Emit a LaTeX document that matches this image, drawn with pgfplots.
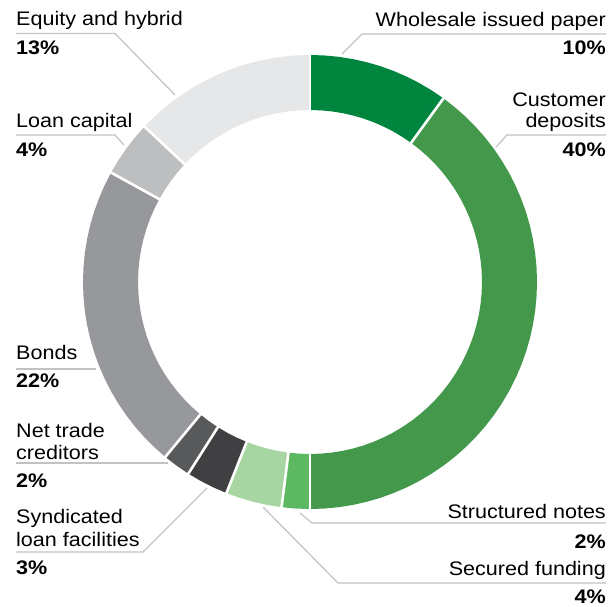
\documentclass[border=0pt]{standalone}
\usepackage{pgfplots}
\pgfplotsset{compat=1.18}
\usepackage{fontspec}
\setmainfont{Liberation Sans}[FakeStretch=1.1]
\definecolor{cWh}{HTML}{00853F}
\definecolor{cCu}{HTML}{43984B}
\definecolor{cSt}{HTML}{5DB961}
\definecolor{cSe}{HTML}{A8D6A2}
\definecolor{cSy}{HTML}{404042}
\definecolor{cNt}{HTML}{58595B}
\definecolor{cBo}{HTML}{97989B}
\definecolor{cLo}{HTML}{BDBEC0}
\definecolor{cEq}{HTML}{E6E7E8}
\definecolor{cLine}{HTML}{C2C2C2}
\newcommand\lab{\fontsize{19.6}{22}\selectfont}
\begin{document}
\begin{tikzpicture}
\begin{axis}[scale only axis, width=616pt, height=607pt,
  xmin=-310, xmax=306, ymin=-282, ymax=325, y dir=reverse,
  hide axis, clip=false]
\path (axis cs:-310,-282) rectangle (axis cs:306,325);
% Ring slices: angle = 3.6*(cumulative percent) - 90, radius = mid of ring
% Wholesale issued paper 10%
\addplot[draw=cWh, line width=55pt, data cs=polar] coordinates {(-90,199.5) (-86.4,199.5) (-82.8,199.5) (-79.2,199.5) (-75.6,199.5) (-72,199.5) (-68.4,199.5) (-64.8,199.5) (-61.2,199.5) (-57.6,199.5) (-54,199.5)};
% Customer deposits 40%
\addplot[draw=cCu, line width=55pt, data cs=polar] coordinates {(-54,199.5) (-50.4,199.5) (-46.8,199.5) (-43.2,199.5) (-39.6,199.5) (-36,199.5) (-32.4,199.5) (-28.8,199.5) (-25.2,199.5) (-21.6,199.5) (-18,199.5) (-14.4,199.5) (-10.8,199.5) (-7.2,199.5) (-3.6,199.5) (0,199.5) (3.6,199.5) (7.2,199.5) (10.8,199.5) (14.4,199.5) (18,199.5) (21.6,199.5) (25.2,199.5) (28.8,199.5) (32.4,199.5) (36,199.5) (39.6,199.5) (43.2,199.5) (46.8,199.5) (50.4,199.5) (54,199.5) (57.6,199.5) (61.2,199.5) (64.8,199.5) (68.4,199.5) (72,199.5) (75.6,199.5) (79.2,199.5) (82.8,199.5) (86.4,199.5) (90,199.5)};
% Structured notes 2%
\addplot[draw=cSt, line width=55pt, data cs=polar] coordinates {(90,199.5) (93.6,199.5) (97.2,199.5)};
% Secured funding 4%
\addplot[draw=cSe, line width=55pt, data cs=polar] coordinates {(97.2,199.5) (100.8,199.5) (104.4,199.5) (108,199.5) (111.6,199.5)};
% Syndicated loan facilities 3%
\addplot[draw=cSy, line width=55pt, data cs=polar] coordinates {(111.6,199.5) (115.2,199.5) (118.8,199.5) (122.4,199.5)};
% Net trade creditors 2%
\addplot[draw=cNt, line width=55pt, data cs=polar] coordinates {(122.4,199.5) (126,199.5) (129.6,199.5)};
% Bonds 22%
\addplot[draw=cBo, line width=55pt, data cs=polar] coordinates {(129.6,199.5) (133.2,199.5) (136.8,199.5) (140.4,199.5) (144,199.5) (147.6,199.5) (151.2,199.5) (154.8,199.5) (158.4,199.5) (162,199.5) (165.6,199.5) (169.2,199.5) (172.8,199.5) (176.4,199.5) (180,199.5) (183.6,199.5) (187.2,199.5) (190.8,199.5) (194.4,199.5) (198,199.5) (201.6,199.5) (205.2,199.5) (208.8,199.5)};
% Loan capital 4%
\addplot[draw=cLo, line width=55pt, data cs=polar] coordinates {(208.8,199.5) (212.4,199.5) (216,199.5) (219.6,199.5) (223.2,199.5)};
% Equity and hybrid 13%
\addplot[draw=cEq, line width=55pt, data cs=polar] coordinates {(223.2,199.5) (226.8,199.5) (230.4,199.5) (234,199.5) (237.6,199.5) (241.2,199.5) (244.8,199.5) (248.4,199.5) (252,199.5) (255.6,199.5) (259.2,199.5) (262.8,199.5) (266.4,199.5) (270,199.5)};
% white separators
\addplot[draw=white, line width=2.6pt, data cs=polar] coordinates {(-90,168) (-90,231)};
\addplot[draw=white, line width=2.6pt, data cs=polar] coordinates {(-54,168) (-54,231)};
\addplot[draw=white, line width=2.6pt, data cs=polar] coordinates {(90,168) (90,231)};
\addplot[draw=white, line width=2.6pt, data cs=polar] coordinates {(97.2,168) (97.2,231)};
\addplot[draw=white, line width=2.6pt, data cs=polar] coordinates {(111.6,168) (111.6,231)};
\addplot[draw=white, line width=2.6pt, data cs=polar] coordinates {(122.4,168) (122.4,231)};
\addplot[draw=white, line width=2.6pt, data cs=polar] coordinates {(129.6,168) (129.6,231)};
\addplot[draw=white, line width=2.6pt, data cs=polar] coordinates {(208.8,168) (208.8,231)};
\addplot[draw=white, line width=2.6pt, data cs=polar] coordinates {(223.2,168) (223.2,231)};
% leader lines
\addplot[draw=cLine, line width=1.2pt] coordinates {(-294,-248.5) (-195,-248.5) (-135,-187)};
\addplot[draw=cLine, line width=1.2pt] coordinates {(-294,-147) (-195,-147) (-186,-137)};
\addplot[draw=cLine, line width=1.2pt] coordinates {(-294,87) (-214,87)};
\addplot[draw=cLine, line width=1.2pt] coordinates {(-294,181) (-142,181)};
\addplot[draw=cLine, line width=1.2pt] coordinates {(-294,270) (-167,270) (-103,206)};
\addplot[draw=cLine, line width=1.2pt] coordinates {(32,-228) (52,-248) (296,-248)};
\addplot[draw=cLine, line width=1.2pt] coordinates {(186,-135) (197,-147) (296,-147)};
\addplot[draw=cLine, line width=1.2pt] coordinates {(-10,231) (2,241) (296,241)};
\addplot[draw=cLine, line width=1.2pt] coordinates {(-47,225) (28,301) (296,301)};
% labels left
\node[anchor=base west, inner sep=0pt] at (axis cs:-294,-256) {\lab Equity and hybrid};
\node[anchor=base west, inner sep=0pt] at (axis cs:-294,-227) {\lab\bfseries 13\%};
\node[anchor=base west, inner sep=0pt] at (axis cs:-294,-154) {\lab Loan capital};
\node[anchor=base west, inner sep=0pt] at (axis cs:-294,-125) {\lab\bfseries 4\%};
\node[anchor=base west, inner sep=0pt] at (axis cs:-294,77) {\lab Bonds};
\node[anchor=base west, inner sep=0pt] at (axis cs:-294,105) {\lab\bfseries 22\%};
\node[anchor=base west, inner sep=0pt] at (axis cs:-294,155) {\lab Net trade};
\node[anchor=base west, inner sep=0pt] at (axis cs:-294,177) {\lab creditors};
\node[anchor=base west, inner sep=0pt] at (axis cs:-294,205) {\lab\bfseries 2\%};
\node[anchor=base west, inner sep=0pt] at (axis cs:-294,241) {\lab Syndicated};
\node[anchor=base west, inner sep=0pt] at (axis cs:-294,264) {\lab loan facilities};
\node[anchor=base west, inner sep=0pt] at (axis cs:-294,292) {\lab\bfseries 3\%};
% labels right
\node[anchor=base east, inner sep=0pt] at (axis cs:296,-255) {\lab Wholesale issued paper};
\node[anchor=base east, inner sep=0pt] at (axis cs:296,-227) {\lab\bfseries 10\%};
\node[anchor=base east, inner sep=0pt] at (axis cs:296,-175) {\lab Customer};
\node[anchor=base east, inner sep=0pt] at (axis cs:296,-154) {\lab deposits};
\node[anchor=base east, inner sep=0pt] at (axis cs:296,-125) {\lab\bfseries 40\%};
\node[anchor=base east, inner sep=0pt] at (axis cs:296,236) {\lab Structured notes};
\node[anchor=base east, inner sep=0pt] at (axis cs:296,266) {\lab\bfseries 2\%};
\node[anchor=base east, inner sep=0pt] at (axis cs:296,293) {\lab Secured funding};
\node[anchor=base east, inner sep=0pt] at (axis cs:296,321) {\lab\bfseries 4\%};
\end{axis}
\end{tikzpicture}
\end{document}
